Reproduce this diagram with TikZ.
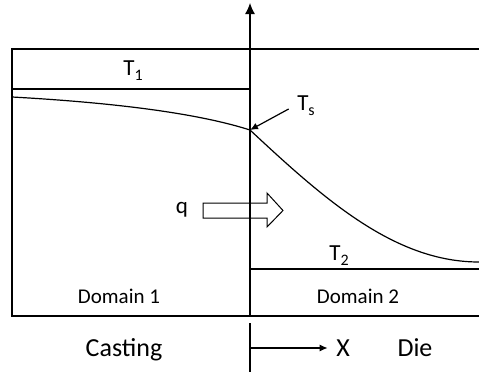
\documentclass[tikz,border=0pt]{standalone}
\usepackage{fontspec}
\setmainfont{Carlito}
\usetikzlibrary{arrows.meta}
\newcommand{\lowsub}[1]{\raisebox{-5pt}{\fontsize{16}{16}\selectfont#1}}
\tikzset{
  lbl/.style={inner sep=1pt,anchor=base,font=\fontsize{23}{26}\selectfont},
  domlbl/.style={inner sep=1pt,anchor=base,font=\fontsize{21}{24}\selectfont},
  bottomlbl/.style={inner sep=1pt,anchor=base,font=\fontsize{26}{30}\selectfont}
}

\begin{document}
\begin{tikzpicture}[x=1pt,y=-1pt,line width=1.2pt]
  \useasboundingbox (0,0) rectangle (479,372);
  \draw (479,49)--(12,49)--(12,316)--(479,316);
  \draw (12,89)--(250,89);
  \draw (250,269)--(479,269);
  \coordinate (base) at (250,316);
  \coordinate (top) at (250,3);
  \coordinate (low) at (250,323);
  \coordinate (bot) at (250,372);
  \coordinate (xo) at (250,348);
  \coordinate (s) at (250,130);
  \draw[-{Latex[length=11pt,width=10pt]}] (base)--(top);
  \draw (low)--(bot);
  \draw (12,97) .. controls (120,103) and (200,114) .. (s);
  \draw (s) .. controls (325,200) and (395,262) .. (479,262);
  \node[lbl] (T1) at (133,75) {T\lowsub{1}};
  \node[lbl] (Ts) at (306,110) {T\lowsub{s}};
  \node[lbl] (T2) at (339,260) {T\lowsub{2}};
  \node[lbl] (q) at (182,213) {q};
  \draw[-{Latex[length=8pt,width=7pt]},shorten <=8pt] (Ts.west)--(s);
  \draw[line width=1pt] (203,203)--(267,203)--(267,193)--(283,210.5)--(267,227)--(267,218)--(203,218)--cycle;
  \node[domlbl] (dom1) at (119,303) {Domain 1};
  \node[domlbl] (dom2) at (358,303) {Domain 2};
  \node[bottomlbl] (cast) at (124,356) {Casting};
  \node[bottomlbl] (X) at (343,356) {X};
  \node[bottomlbl] (die) at (415,356) {Die};
  \draw[-{Latex[length=8pt,width=7pt]},shorten >=7pt] (xo)--(xo-|X.west);
\end{tikzpicture}
\end{document}
